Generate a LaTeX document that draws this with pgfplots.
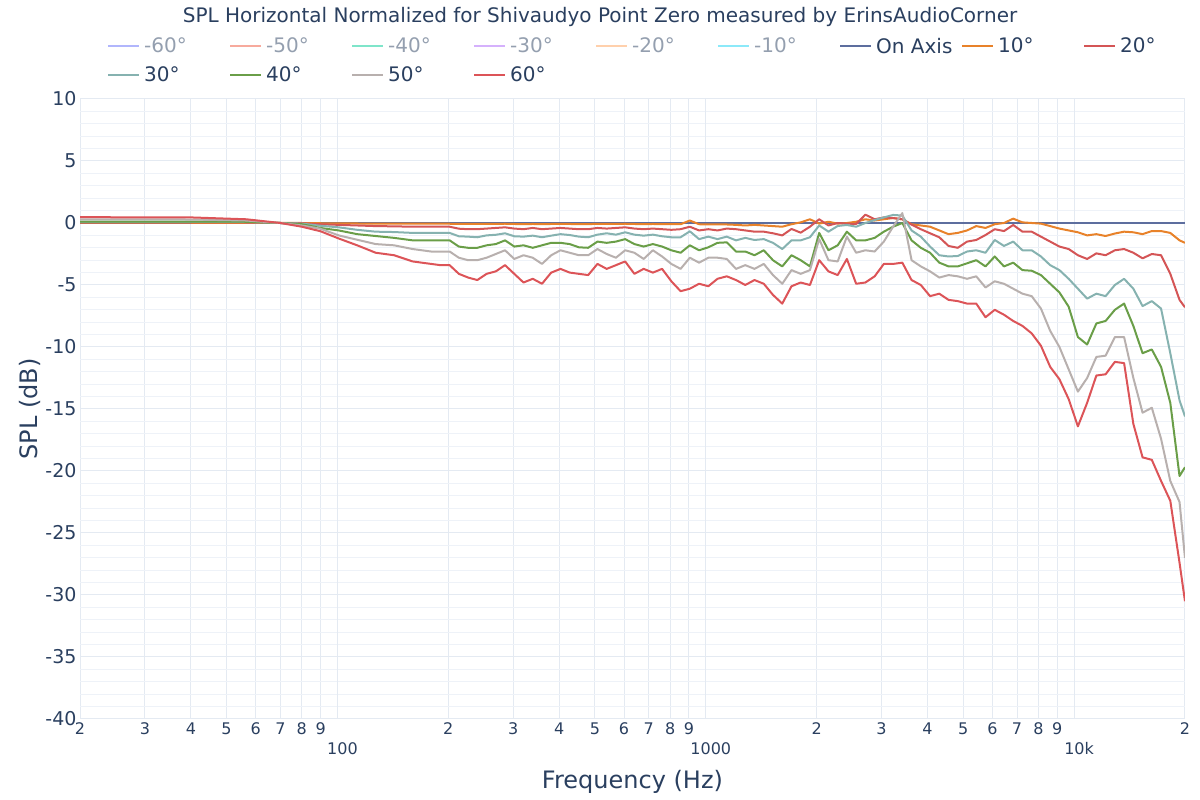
\documentclass[border=0pt]{standalone}
\usepackage{fontspec}
\setmainfont{DejaVu Sans}
\usepackage{pgfplots}
\pgfplotsset{compat=1.18}
\usepackage{pgfplotstable}

\definecolor{txt}{HTML}{2A3F5F}
\definecolor{ltxt}{HTML}{949FAF}
\definecolor{gridmaj}{HTML}{E4EAF2}
\definecolor{gridmin}{HTML}{EEF2F8}
\definecolor{cAxis}{HTML}{5D6E9E}
\definecolor{c10}{HTML}{E8822A}
\definecolor{c20}{HTML}{D45556}
\definecolor{c30}{HTML}{86B2B0}
\definecolor{c40}{HTML}{6A9E48}
\definecolor{c50}{HTML}{B8B0AE}
\definecolor{c60}{HTML}{DC5458}
\definecolor{m60}{HTML}{B1B6FC}
\definecolor{m50}{HTML}{F7AA9D}
\definecolor{m40}{HTML}{7FE5CA}
\definecolor{m30}{HTML}{D5B1FC}
\definecolor{m20}{HTML}{FFD0AC}
\definecolor{m10}{HTML}{8CE9F9}

\newcommand\lgt[2]{\makebox[83pt][l]{\textcolor{#1}{#2}}}

% normalized SPL (dB) per off-axis angle
\pgfplotstableread{
f      a10   a20   a30   a40   a50   a60
20     0.02  0.05  0.10  0.12  0.30  0.48
28.28  0.02  0.05  0.10  0.12  0.30  0.45
40     0.02  0.05  0.10  0.12  0.28  0.45
56.57  0.01  0.04  0.08  0.10  0.20  0.30
70     0.00  0.00  0.00  0.00  0.00  0.00
80     0.00 -0.02 -0.05 -0.10 -0.20 -0.30
89.8  -0.02 -0.10 -0.22 -0.40 -0.46 -0.66
100.8 -0.03 -0.15 -0.35 -0.60 -1.00 -1.25
113.1 -0.04 -0.20 -0.55 -0.90 -1.35 -1.80
127.0 -0.05 -0.25 -0.70 -1.05 -1.70 -2.40
142.5 -0.05 -0.27 -0.73 -1.20 -1.80 -2.60
160.0 -0.06 -0.30 -0.80 -1.40 -2.10 -3.10
169.5 -0.06 -0.30 -0.80 -1.40 -2.20 -3.20
179.6 -0.06 -0.30 -0.80 -1.40 -2.30 -3.30
190.3 -0.06 -0.30 -0.80 -1.40 -2.30 -3.40
201.6 -0.06 -0.30 -0.80 -1.40 -2.30 -3.40
213.6 -0.08 -0.46 -1.07 -1.90 -2.80 -4.10
226.3 -0.08 -0.50 -1.10 -2.00 -3.00 -4.40
239.7 -0.08 -0.50 -1.15 -2.00 -3.00 -4.60
254.0 -0.07 -0.45 -1.00 -1.80 -2.80 -4.10
269.1 -0.07 -0.40 -0.95 -1.70 -2.50 -3.90
285.1 -0.06 -0.35 -0.83 -1.40 -2.20 -3.40
302.0 -0.08 -0.45 -1.07 -1.90 -2.90 -4.10
320.0 -0.09 -0.50 -1.10 -1.80 -2.60 -4.80
339.0 -0.08 -0.40 -1.02 -2.00 -2.80 -4.50
359.2 -0.09 -0.50 -1.15 -1.80 -3.30 -4.90
380.5 -0.08 -0.45 -1.02 -1.60 -2.60 -4.00
403.2 -0.07 -0.40 -0.90 -1.60 -2.20 -3.70
427.1 -0.08 -0.45 -0.97 -1.70 -2.40 -4.00
452.5 -0.09 -0.50 -1.10 -1.96 -2.60 -4.10
479.5 -0.09 -0.50 -1.15 -2.00 -2.60 -4.20
508.0 -0.07 -0.40 -0.94 -1.50 -2.10 -3.30
538.2 -0.08 -0.45 -0.83 -1.60 -2.50 -3.70
570.2 -0.07 -0.40 -0.94 -1.50 -2.80 -3.40
604.1 -0.06 -0.35 -0.75 -1.30 -2.20 -3.10
640.0 -0.08 -0.45 -0.94 -1.70 -2.40 -4.10
678.1 -0.09 -0.50 -1.02 -1.90 -2.90 -3.70
718.4 -0.08 -0.45 -0.94 -1.70 -2.20 -4.00
761.1 -0.09 -0.50 -1.07 -1.90 -2.70 -3.70
806.3 -0.10 -0.55 -1.15 -2.20 -3.30 -4.70
854.3 -0.10 -0.50 -1.15 -2.40 -3.70 -5.50
905.1  0.20 -0.30 -0.67 -1.80 -2.80 -5.30
958.9 -0.10 -0.60 -1.30 -2.20 -3.20 -4.90
1016  -0.12 -0.50 -1.10 -1.96 -2.80 -5.10
1076  -0.12 -0.60 -1.30 -1.60 -2.80 -4.50
1140  -0.12 -0.45 -1.10 -1.56 -2.90 -4.30
1208  -0.15 -0.50 -1.40 -2.30 -3.70 -4.60
1280  -0.20 -0.60 -1.20 -2.30 -3.40 -5.00
1356  -0.15 -0.70 -1.37 -2.60 -3.70 -4.60
1437  -0.20 -0.70 -1.30 -2.20 -3.30 -4.90
1522  -0.25 -0.83 -1.60 -3.00 -4.20 -5.80
1613  -0.30 -1.00 -2.10 -3.50 -4.90 -6.50
1709  -0.10 -0.48 -1.40 -2.60 -3.80 -5.10
1810   0.05 -0.78 -1.40 -3.00 -4.10 -4.80
1918   0.30 -0.30 -1.15 -3.50 -3.80 -5.00
2032  -0.05  0.30 -0.20 -0.80 -1.30 -3.00
2153   0.10 -0.20 -0.70 -2.20 -3.00 -3.90
2281  -0.05  0.00 -0.24 -1.80 -3.10 -4.20
2416   0.00 -0.05 -0.16 -0.70 -1.10 -2.90
2560   0.10 -0.08 -0.30 -1.40 -2.40 -4.90
2712   0.30  0.67  0.00 -1.40 -2.20 -4.80
2874   0.20  0.30  0.24 -1.20 -2.30 -4.30
3044   0.30  0.45  0.45 -0.70 -1.50 -3.30
3225   0.40  0.40  0.65 -0.30 -0.30 -3.30
3417   0.30  0.30  0.60  0.00  0.80 -3.20
3620  -0.10 -0.13 -0.60 -1.40 -3.00 -4.60
3836  -0.20 -0.50 -1.10 -2.00 -3.50 -5.00
4064  -0.30 -0.83 -1.90 -2.40 -3.90 -5.90
4305  -0.60 -1.15 -2.60 -3.20 -4.40 -5.70
4561  -0.90 -1.85 -2.70 -3.50 -4.20 -6.20
4833  -0.80 -2.00 -2.66 -3.50 -4.30 -6.30
5120  -0.60 -1.50 -2.30 -3.25 -4.50 -6.50
5424  -0.25 -1.37 -2.20 -3.00 -4.30 -6.50
5747  -0.40 -0.97 -2.40 -3.50 -5.20 -7.60
6089  -0.10 -0.50 -1.37 -2.70 -4.70 -7.00
6451   0.00 -0.65 -1.85 -3.50 -4.90 -7.40
6834   0.35 -0.16 -1.50 -3.20 -5.30 -7.90
7241   0.05 -0.70 -2.20 -3.80 -5.70 -8.30
7671   0.00 -0.70 -2.20 -3.85 -5.90 -8.90
8127  -0.05 -1.10 -2.70 -4.20 -6.90 -9.90
8611  -0.25 -1.50 -3.40 -4.90 -8.70 -11.6
9123  -0.45 -1.90 -3.80 -5.60 -10.0 -12.6
9665  -0.60 -2.10 -4.50 -6.75 -11.8 -14.2
10240 -0.75 -2.60 -5.30 -9.20 -13.6 -16.4
10849 -1.00 -2.90 -6.10 -9.80 -12.5 -14.5
11494 -0.90 -2.45 -5.70 -8.10 -10.8 -12.3
12177 -1.05 -2.60 -5.90 -7.90 -10.7 -12.2
12902 -0.85 -2.20 -5.00 -7.00 -9.20 -11.2
13669 -0.70 -2.10 -4.50 -6.50 -9.20 -11.3
14482 -0.75 -2.40 -5.30 -8.30 -12.5 -16.2
15343 -0.90 -2.85 -6.70 -10.5 -15.3 -18.9
16255 -0.65 -2.50 -6.30 -10.2 -14.9 -19.1
17222 -0.65 -2.60 -6.90 -11.6 -17.4 -20.8
18246 -0.80 -4.10 -10.5 -14.5 -20.8 -22.4
19331 -1.40 -6.20 -14.3 -20.4 -22.5 -27.4
20000 -1.60 -6.80 -15.6 -19.7 -27.0 -30.5
}\spl

\begin{document}
\begin{tikzpicture}
\path[use as bounding box] (-80pt,-81pt) rectangle (1120pt,719pt);
\begin{axis}[
    at={(0pt,0pt)}, anchor=south west,
    scale only axis, width=1105pt, height=620pt,
    xmode=log, xmin=20, xmax=20000,
    ymin=-40, ymax=10,
    axis line style={draw=none},
    major tick length=0pt, minor tick length=0pt,
    xtick={20,30,40,50,60,70,80,90,200,300,400,500,600,700,800,900,2000,3000,4000,5000,6000,7000,8000,9000,20000},
    xticklabels={2,3,4,5,6,7,8,9,2,3,4,5,6,7,8,9,2,3,4,5,6,7,8,9,2},
    extra x ticks={100,1000,10000},
    extra x tick labels={100,1000,10k},
    extra x tick style={tick label style={yshift=-20pt, xshift=5pt, font=\fontsize{18}{21}\selectfont}},
    ytick={-40,-35,-30,-25,-20,-15,-10,-5,0,5,10},
    yticklabels={-40,-35,-30,-25,-20,-15,-10,-5,0,5,10},
    minor y tick num=4,
    xmajorgrids, ymajorgrids, yminorgrids,
    major grid style={gridmaj, line width=1pt},
    minor grid style={gridmin, line width=1pt},
    xticklabel style={font=\fontsize{16}{19}\selectfont, text=txt},
    yticklabel style={font=\fontsize{19}{22}\selectfont, text=txt},
    xlabel={Frequency (Hz)}, ylabel={SPL (dB)},
    xlabel style={font=\fontsize{24}{28}\selectfont, text=txt, at={(axis description cs:0.5,-0.101)}, anchor=center},
    ylabel style={font=\fontsize{24}{28}\selectfont, text=txt, at={(axis description cs:-0.0452,0.5)}, anchor=center},
    title={SPL Horizontal Normalized for Shivaudyo Point Zero measured by ErinsAudioCorner},
    title style={font=\fontsize{20}{24}\selectfont, text=txt, at={(axis description cs:0.4706,1.1226)}, anchor=center},
    legend columns=9,
    legend image code/.code={\draw[#1] (0pt,0pt) -- (31pt,0pt);},
    legend style={at={(axis description cs:0.0244,1.102)}, anchor=north west,
        draw=none, fill=none, inner sep=0pt,
        font=\fontsize{20}{24}\selectfont, text=txt,
        row sep=8pt,
        /tikz/every odd column/.append style={column sep=2pt}},
    every axis plot/.append style={mark=none, line width=2pt, line join=round},
]
\addlegendimage{m60, line width=2pt}\addlegendentry{\lgt{ltxt}{-60°}}
\addlegendimage{m50, line width=2pt}\addlegendentry{\lgt{ltxt}{-50°}}
\addlegendimage{m40, line width=2pt}\addlegendentry{\lgt{ltxt}{-40°}}
\addlegendimage{m30, line width=2pt}\addlegendentry{\lgt{ltxt}{-30°}}
\addlegendimage{m20, line width=2pt}\addlegendentry{\lgt{ltxt}{-20°}}
\addlegendimage{m10, line width=2pt}\addlegendentry{\lgt{ltxt}{-10°}}
\addplot[cAxis] coordinates {(20,0) (20000,0)};
\addlegendentry{\lgt{txt}{On Axis}}
\addplot[c10] table[x=f, y=a10] {\spl};
\addlegendentry{\lgt{txt}{10°}}
\addplot[c20] table[x=f, y=a20] {\spl};
\addlegendentry{\lgt{txt}{20°}}
\addplot[c30] table[x=f, y=a30] {\spl};
\addlegendentry{\lgt{txt}{30°}}
\addplot[c40] table[x=f, y=a40] {\spl};
\addlegendentry{\lgt{txt}{40°}}
\addplot[c50] table[x=f, y=a50] {\spl};
\addlegendentry{\lgt{txt}{50°}}
\addplot[c60] table[x=f, y=a60] {\spl};
\addlegendentry{\lgt{txt}{60°}}
\end{axis}
\end{tikzpicture}
\end{document}
